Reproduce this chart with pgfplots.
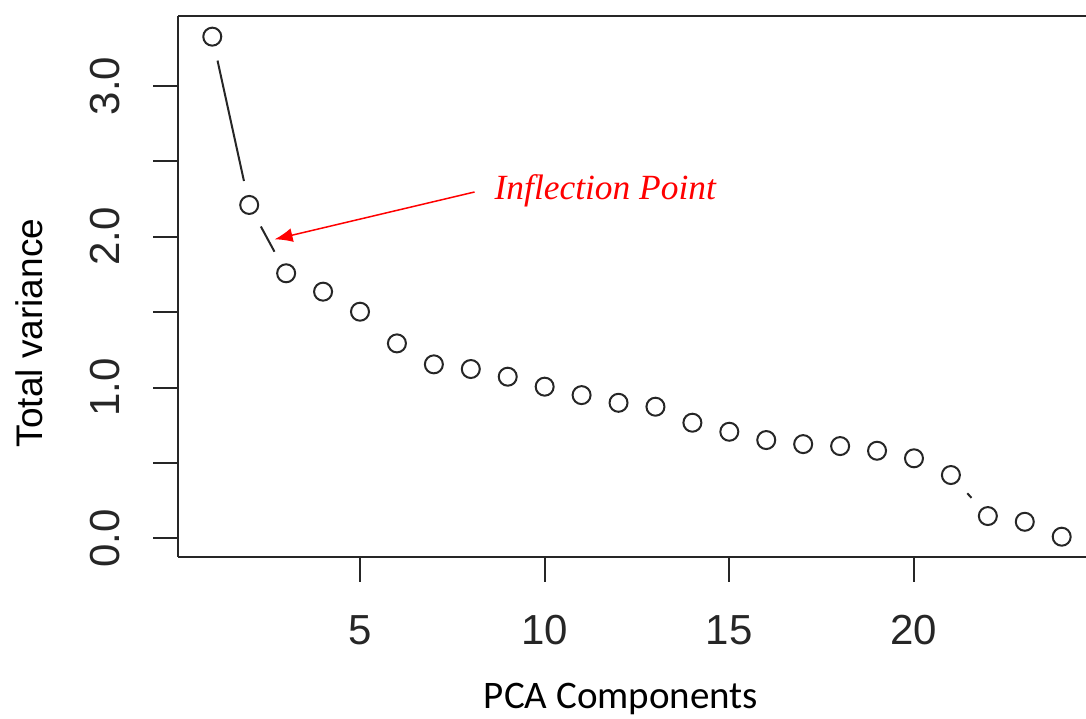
\documentclass[border=0pt]{standalone}
\usepackage{pgfplots}
\pgfplotsset{compat=1.18}
\usepackage{fontspec}
\setmainfont{Liberation Sans}
\newfontfamily\carlito{Carlito}
\newfontfamily\lserif{Liberation Serif}
\usetikzlibrary{arrows.meta}

\begin{document}
\begin{tikzpicture}
\begin{axis}[
  scale only axis,
  width=453.85pt, height=270.5pt,
  xmin=0.08, xmax=24.658, ymin=-0.1216, ymax=3.466,
  axis x line*=box, axis y line*=left,
  axis line style={-, black!85, line width=1pt},
  xtick={5,10,15,20}, xticklabels={5,10,15,20},
  ytick={0,0.5,1,1.5,2,2.5,3}, yticklabels={0.0,,1.0,,2.0,,3.0},
  xtick pos=left, ytick pos=left,
  tick align=outside,
  major tick length=12.5pt,
  tick style={black!85, line width=1pt},
  /pgf/number format/assume math mode=true,
  ticklabel style={font=\fontsize{21}{21}\selectfont, inner sep=0pt, text=black!85},
  xticklabel style={anchor=north},
  yticklabel style={rotate=90, anchor=south},
  xticklabel shift=16.65pt,
  yticklabel shift=16.65pt,
  every axis x label/.style={at={(axis description cs:0.4877,-0.2802)}, anchor=base, inner sep=0pt},
  every axis y label/.style={at={(axis description cs:-0.1494,0.4135)}, anchor=base, rotate=90, inner sep=0pt},
  xlabel={\carlito\fontsize{19.5}{19.5}\selectfont PCA Components},
  ylabel={\fontsize{18.5}{18.5}\selectfont Total variance},
  clip=false,
]
\coordinate (bl) at (rel axis cs:0,0);
\coordinate (tr) at (rel axis cs:1,1);

\addplot[only marks, mark=o, mark size=4.5pt, mark options={line width=1pt, black!85}] table {
x y
1 3.327
2 2.211
3 1.758
4 1.636
5 1.503
6 1.293
7 1.154
8 1.123
9 1.072
10 1.006
11 0.950
12 0.899
13 0.873
14 0.767
15 0.707
16 0.652
17 0.625
18 0.612
19 0.581
20 0.531
21 0.420
22 0.148
23 0.110
24 0.011
};

\addplot[black!85, line width=1pt, shorten <=12.25pt, shorten >=12.25pt] coordinates {(1,3.327) (2,2.211)};
\addplot[black!85, line width=1pt, shorten <=12.25pt, shorten >=12.25pt] coordinates {(2,2.211) (3,1.758)};
\addplot[black!85, line width=1pt, shorten <=12.25pt, shorten >=12.25pt] coordinates {(21,0.420) (22,0.148)};

\draw[red, line width=0.75pt, -{Latex[length=9pt,width=7pt]}] (axis cs:8.103,2.297) -- (axis cs:2.687,1.983);
\node[anchor=base west, text=red, inner sep=0pt, font=\lserif\itshape\fontsize{17.7}{17.7}\selectfont] at (axis cs:8.636,2.244) {Inflection Point};
\end{axis}
\pgfresetboundingbox
\path[use as bounding box] ([xshift=-89.15pt,yshift=-80.65pt]bl) rectangle ([yshift=7.85pt]tr);
\end{tikzpicture}
\end{document}
